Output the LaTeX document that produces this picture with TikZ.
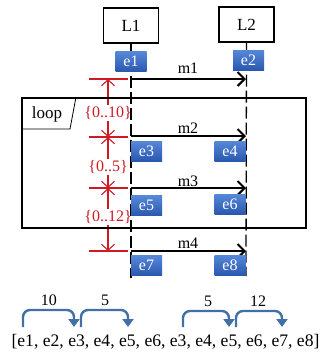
\documentclass[tikz,border=0pt]{standalone}
\usepackage{fontspec}
\setmainfont{Liberation Serif}
\usetikzlibrary{arrows.meta,calc}

\definecolor{evtop}{RGB}{86,136,216}
\definecolor{evbot}{RGB}{42,88,176}
\definecolor{durred}{RGB}{206,26,34}
\definecolor{jumpblue}{RGB}{64,112,166}

\begin{document}
\begin{tikzpicture}[x=1pt,y=-1pt,
life/.style={draw,line width=1.3pt,minimum width=55pt,minimum height=35pt,inner sep=0pt,font=\fontsize{17}{17}\selectfont},
lline/.style={line width=1.3pt,dash pattern=on 12pt off 4pt},
ev/.style={top color=evtop,bottom color=evbot,text=white,minimum width=31pt,minimum height=20pt,inner sep=0pt,font=\fontsize{16}{16}\selectfont},
msg/.style={line width=2.4pt,-{Straight Barb[length=7pt,width=14pt,line width=2pt]}},
mlbl/.style={anchor=base,inner sep=0pt,font=\fontsize{16}{16}\selectfont},
dur/.style={durred,line width=1.1pt},
durtip/.style={dur,-{Straight Barb[length=6pt,width=13pt,line width=1.1pt]}},
durlbl/.style={text=durred,inner sep=1.5pt,font=\fontsize{16}{16}\selectfont},
jump/.style={jumpblue,line width=2.4pt,rounded corners=7pt,-{Triangle[length=8pt,width=11pt]}},
jlbl/.style={inner sep=0pt,font=\fontsize{16}{16}\selectfont}]
\useasboundingbox (0,0) rectangle (323,354);

% lifelines
\node (L1) at (131,25.5) [life] {L1};
\node (L2) at (246.5,24.5) [life] {L2};
\coordinate (L1end) at (131,278);
\coordinate (L2end) at (246,276);
\draw[lline] (L1.south) -- (L1end);
\draw[lline] (L2.south) -- (L2end);

% message ends
\coordinate (a1) at (131,79);
\coordinate (b1) at (246,79);
\coordinate (a2) at (131,136);
\coordinate (b2) at (246,136);
\coordinate (a3) at (131,188);
\coordinate (b3) at (246,188);
\coordinate (a4) at (131,251);
\coordinate (b4) at (246,251);

% time bounds on the left
\coordinate (d0) at (108,79);
\coordinate (d1) at (108,137);
\coordinate (d2) at (108,188);
\coordinate (d3) at (108,251);
\foreach \y in {79,137,188,251}
  \draw[dur] (89,\y) -- (128,\y);
\node (w1) at (108,113) [durlbl] {\{0..10\}};
\node (w2) at (108,167) [durlbl] {\{0..5\}};
\node (w3) at (108,217) [durlbl] {\{0..12\}};
\draw[durtip] (w1) -- (d0);
\draw[durtip] (w1) -- (d1);
\draw[durtip] (w2) -- (d1);
\draw[durtip] (w2) -- (d2);
\draw[durtip] (w3) -- (d2);
\draw[durtip] (w3) -- (d3);

% loop fragment
\node (loopbox) at (164,163) [draw,line width=2pt,minimum width=284pt,minimum height=130pt,inner sep=0pt] {};
\draw[line width=0.8pt] ($(loopbox.north west)+(0,32)$) -- ++(49,0) -- ($(loopbox.north west)+(55,0)$);
\node (looplbl) at (47,114) [inner sep=0pt,font=\fontsize{17}{17}\selectfont] {loop};

% messages
\draw[msg] (a1) -- (b1);
\draw[msg] (a2) -- (b2);
\draw[msg] (a3) -- (b3);
\draw[msg] (a4) -- (b4);
\node (m1) at (188,73) [mlbl] {m1};
\node (m2) at (188,133) [mlbl] {m2};
\node (m3) at (188,186) [mlbl] {m3};
\node (m4) at (188,248) [mlbl] {m4};

% events
\node (e1) at (131,61.5) [ev] {e1};
\node (e2) at (248.5,60) [ev] {e2};
\node (e3) at (146.5,151) [ev] {e3};
\node (e4) at (230,151) [ev] {e4};
\node (e5) at (146.5,205.5) [ev] {e5};
\node (e6) at (230,204) [ev] {e6};
\node (e7) at (146.5,265.5) [ev] {e7};
\node (e8) at (230,265) [ev] {e8};

% trace with jumps
\node (seq) at (165.5,342) [inner sep=0pt,font=\fontsize{17.6}{17.6}\selectfont] {[e1, e2, e3, e4, e5, e6, e3, e4, e5, e6, e7, e8]};
\coordinate (s1) at (23,327);
\coordinate (t1) at (74,327);
\coordinate (s2) at (81,327);
\coordinate (t2) at (128,327);
\coordinate (s3) at (183,327);
\coordinate (t3) at (229,327);
\coordinate (s4) at (236,327);
\coordinate (t4) at (282,327);
\draw[jump] (s1) -- ++(0,-17) -| (t1);
\draw[jump] (s2) -- ++(0,-17) -| (t2);
\draw[jump] (s3) -- ++(0,-16) -| (t3);
\draw[jump] (s4) -- ++(0,-16) -| (t4);
\node (j1) at (49,300) [jlbl] {10};
\node (j2) at (105,300) [jlbl] {5};
\node (j3) at (208,301) [jlbl] {5};
\node (j4) at (258,301) [jlbl] {12};

\end{tikzpicture}
\end{document}
